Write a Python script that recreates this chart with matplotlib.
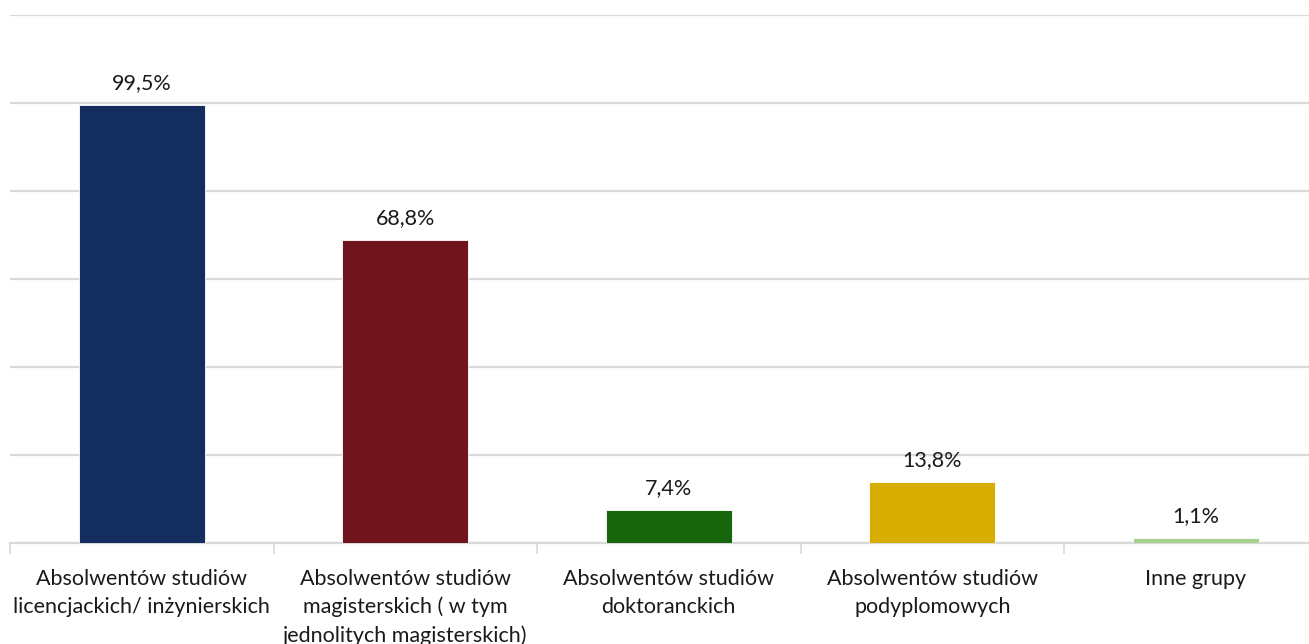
import matplotlib.pyplot as plt
import numpy as np

categories = [
    "Absolwentów studiów\nlicencjackich/ inżynierskich",
    "Absolwentów studiów\nmagisterskich ( w tym\njednolitych magisterskich)",
    "Absolwentów studiów\ndoktoranckich",
    "Absolwentów studiów\npodyplomowych",
    "Inne grupy",
]
values = [99.5, 68.8, 7.4, 13.8, 1.1]
labels = ["99,5%", "68,8%", "7,4%", "13,8%", "1,1%"]
colors = ["#142d5f", "#70151d", "#17660e", "#d6ad00", "#a9d18e"]

GRID = "#d9d9d9"

plt.rcParams['font.family'] = ['Lato', 'DejaVu Sans']

fig = plt.figure(figsize=(13.09, 6.44), dpi=100)
ax = fig.add_axes([10 / 1309, 101 / 644, 1317.5 / 1309, 528 / 644])

x = np.arange(len(values))
ax.bar(x, values, width=0.48, color=colors, edgecolor="white", linewidth=0.6, zorder=3)

for xi, v, lab in zip(x, values, labels):
    ax.annotate(lab, xy=(xi, v), xytext=(0, 9), textcoords='offset points',
                ha='center', va='bottom', fontsize=15.5, color="#1a1a1a", zorder=4)

ax.set_xlim(-0.5, len(values) - 0.5)
ax.set_ylim(0, 120)
ax.set_yticks(np.arange(0, 121, 20))
ax.yaxis.grid(True, color=GRID, linewidth=1.6, zorder=0)
ax.tick_params(axis='y', left=False, labelleft=False)

# category boundaries as major ticks, names as minor ticks
ax.set_xticks(np.arange(-0.5, len(values), 1.0))
ax.set_xticklabels([])
ax.tick_params(axis='x', which='major', length=8, width=1.2, color=GRID)
ax.set_xticks(x, minor=True)
ax.set_xticklabels(categories, minor=True, fontsize=15.5, color="#1a1a1a", linespacing=1.45)
ax.tick_params(axis='x', which='minor', length=0, pad=19)

for side in ['top', 'right', 'left']:
    ax.spines[side].set_visible(False)
ax.spines['bottom'].set_color(GRID)
ax.spines['bottom'].set_linewidth(1.6)

fig.savefig("out.png", dpi=100)
